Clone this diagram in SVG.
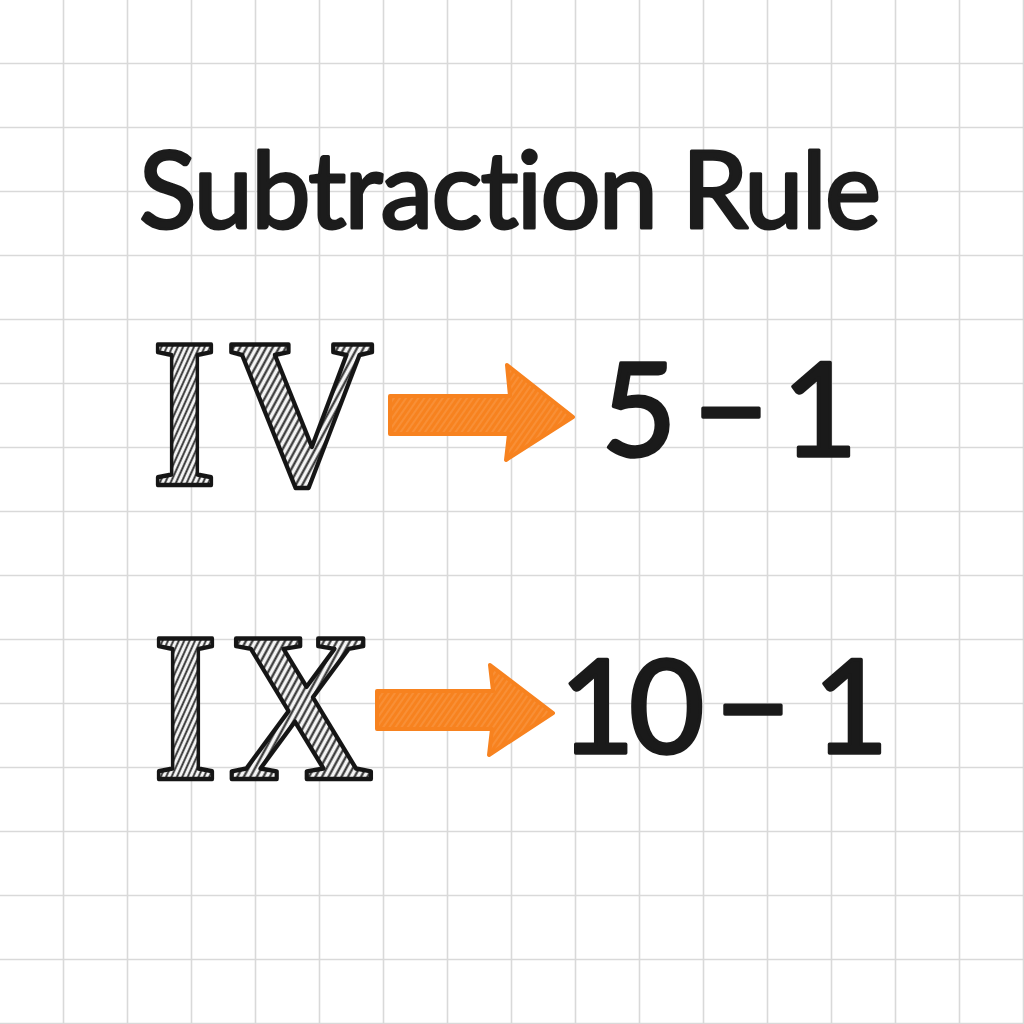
<svg xmlns="http://www.w3.org/2000/svg" width="1024" height="1024" viewBox="0 0 1024 1024">
<defs>
<style>
.grid{stroke:#d9d9d9;stroke-width:1.6;fill:none}
.title{font-family:Lato,"Noto Sans",sans-serif;font-weight:400;font-size:106px;fill:#1c1c1c;stroke:#1c1c1c;stroke-width:3;stroke-linejoin:round;font-variant-ligatures:none;font-feature-settings:"liga" 0,"clig" 0}
.roman{font-family:"Liberation Serif","Times New Roman",serif;font-weight:700;font-size:214px;fill:url(#hatch);stroke:#151515;stroke-width:4.5;stroke-linejoin:round}
.num{font-family:Lato,"Noto Sans",sans-serif;font-weight:400;font-size:130px;fill:#1a1a1a;stroke:#1a1a1a;stroke-width:3.5;stroke-linejoin:round;text-anchor:middle}
.arrow{fill:url(#orangeHatch);stroke:#f7821f;stroke-width:4;stroke-linejoin:round}
</style>
<pattern id="hatch" patternUnits="userSpaceOnUse" width="6" height="6" patternTransform="rotate(30)">
<rect width="6" height="6" fill="#f4f4f4"/>
<line x1="1.5" y1="0" x2="1.5" y2="6" stroke="#2a2a2a" stroke-width="2.2"/>
</pattern>
<pattern id="orangeHatch" patternUnits="userSpaceOnUse" width="5" height="5" patternTransform="rotate(35)">
<rect width="5" height="5" fill="#f7821f"/>
<line x1="1" y1="0" x2="1" y2="5" stroke="#fa9d4c" stroke-width="1"/>
</pattern>
</defs>
<rect width="1024" height="1024" fill="#ffffff"/>
<path class="grid" d="M63.5 0V1024M127.5 0V1024M191.5 0V1024M255.5 0V1024M319.5 0V1024M383.5 0V1024M447.5 0V1024M511.5 0V1024M575.5 0V1024M639.5 0V1024M703.5 0V1024M767.5 0V1024M831.5 0V1024M895.5 0V1024M959.5 0V1024M1023.5 0V1024M0 63.5H1024M0 127.5H1024M0 191.5H1024M0 255.5H1024M0 319.5H1024M0 383.5H1024M0 447.5H1024M0 511.5H1024M0 575.5H1024M0 639.5H1024M0 703.5H1024M0 767.5H1024M0 831.5H1024M0 895.5H1024M0 959.5H1024M0 1023.5H1024"/>
<g id="title">
<text class="title" x="139" y="228" textLength="742" lengthAdjust="spacing">Subtraction Rule</text>
</g>
<g id="node-IV">
<text class="roman" transform="translate(152 485) scale(0.78 1)">I</text>
<text class="roman" transform="translate(229 485) scale(0.94 1)">V</text>
</g>
<g id="node-5-1">
<text class="num" x="639" y="456">5</text>
<text class="num" x="731" y="456">−</text>
<text class="num" x="820" y="456">1</text>
</g>
<g id="node-IX">
<text class="roman" transform="translate(153 779) scale(0.78 1)">I</text>
<text class="roman" transform="translate(228 779) scale(0.94 1)">X</text>
</g>
<g id="node-10-1">
<text class="num" x="629" y="753" letter-spacing="-6">10</text>
<text class="num" x="753" y="753">−</text>
<text class="num" x="851" y="753">1</text>
</g>
<g id="connectors">
<polygon class="arrow" points="390,396 510,396 507,365 573,417 506,460 509,434 390,434"/>
<polygon class="arrow" points="377,691 493,691 490,665 553,713 489,755 492,729 377,729"/>
</g>
</svg>
